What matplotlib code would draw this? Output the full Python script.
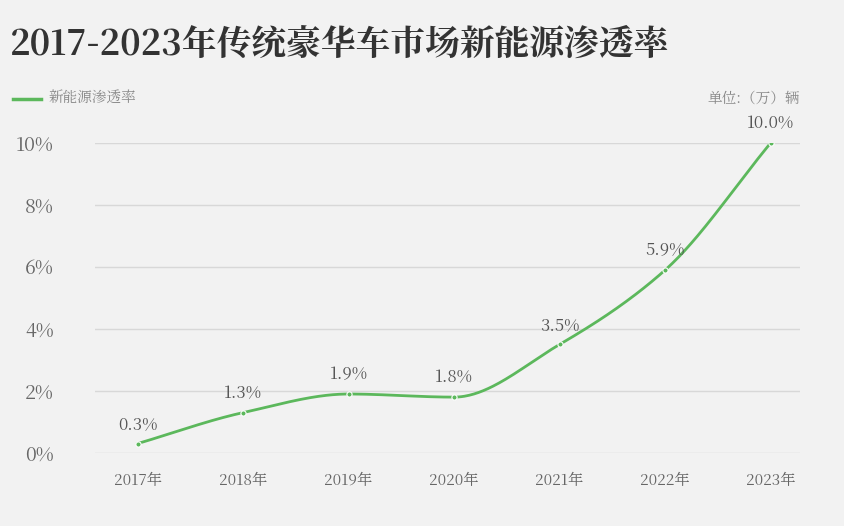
import numpy as np
import matplotlib
matplotlib.use("Agg")
import matplotlib.pyplot as plt
from matplotlib import font_manager as fm

years = ["2017年", "2018年", "2019年", "2020年", "2021年", "2022年", "2023年"]
values = [0.3, 1.3, 1.9, 1.8, 3.5, 5.9, 10.0]
labels = ["0.3%", "1.3%", "1.9%", "1.8%", "3.5%", "5.9%", "10.0%"]
yticks = [0, 2, 4, 6, 8, 10]
ytick_labels = ["0%", "2%", "4%", "6%", "8%", "10%"]

cands = [f.name for f in fm.fontManager.ttflist if "CJK" in f.name]
cjk = "Noto Sans CJK SC" if "Noto Sans CJK SC" in cands else (cands[0] if cands else "DejaVu Sans")
plt.rcParams["font.family"] = "sans-serif"
plt.rcParams["font.sans-serif"] = [cjk, "Noto Sans CJK JP", "DejaVu Sans"]
green = "#5cb85c"
bg = "#f2f2f2"

def pchip(x, y, xs):
    x = np.asarray(x, float); y = np.asarray(y, float)
    h = np.diff(x); d = np.diff(y) / h
    m = np.zeros_like(y)
    for k in range(1, len(y) - 1):
        if d[k-1] * d[k] > 0:
            w1 = 2*h[k] + h[k-1]; w2 = h[k] + 2*h[k-1]
            m[k] = (w1 + w2) / (w1/d[k-1] + w2/d[k])
    m[0] = d[0]; m[-1] = d[-1]
    out = np.empty_like(xs)
    for i, t in enumerate(xs):
        k = min(np.searchsorted(x, t, side="right") - 1, len(x) - 2)
        s = (t - x[k]) / h[k]
        h00 = 2*s**3 - 3*s**2 + 1; h10 = s**3 - 2*s**2 + s
        h01 = -2*s**3 + 3*s**2; h11 = s**3 - s**2
        out[i] = h00*y[k] + h10*h[k]*m[k] + h01*y[k+1] + h11*h[k]*m[k+1]
    return out

fig = plt.figure(figsize=(8.44, 5.26), dpi=100, facecolor=bg)
ax = fig.add_axes([0.113, 0.139, 0.835, 0.589], facecolor=bg)
x = np.arange(len(years))
xs = np.linspace(0, len(years) - 1, 400)
ax.plot(xs, pchip(x, values, xs), color=green, lw=2)
ax.scatter(x, values, s=14, color=green, edgecolor="white", linewidth=0.8, zorder=3)
for xi, v, l in zip(x, values, labels):
    ax.text(xi, v + 0.35, l, ha="center", va="bottom", fontsize=12, color="#555555")

ax.set_xlim(-0.4, 6.28)
ax.set_ylim(0, 10)
ax.set_yticks(yticks)
ax.set_yticklabels(ytick_labels)
ax.set_xticks(x)
ax.set_xticklabels(years)
ax.tick_params(axis="y", length=0, labelsize=14, labelcolor="#666666", pad=30)
ax.tick_params(axis="x", length=0, labelsize=11, labelcolor="#666666", pad=14)
ax.grid(axis="y", color="#d8d8d8", lw=1)
ax.set_axisbelow(True)
for s in ax.spines.values():
    s.set_visible(False)

fig.text(0.012, 0.915, "2017-2023年传统豪华车市场新能源渗透率", fontsize=25,
         fontweight="bold", color="#333333", va="center")
fig.lines.append(plt.Line2D([0.015, 0.048], [0.812, 0.812], color=green, lw=2.5,
                            transform=fig.transFigure))
fig.text(0.057, 0.812, "新能源渗透率", fontsize=10.5, color="#888888", va="center")
fig.text(0.948, 0.812, "单位:（万）辆", fontsize=10.5, color="#888888", va="center", ha="right")

fig.savefig("out.png", dpi=100, facecolor=bg)
